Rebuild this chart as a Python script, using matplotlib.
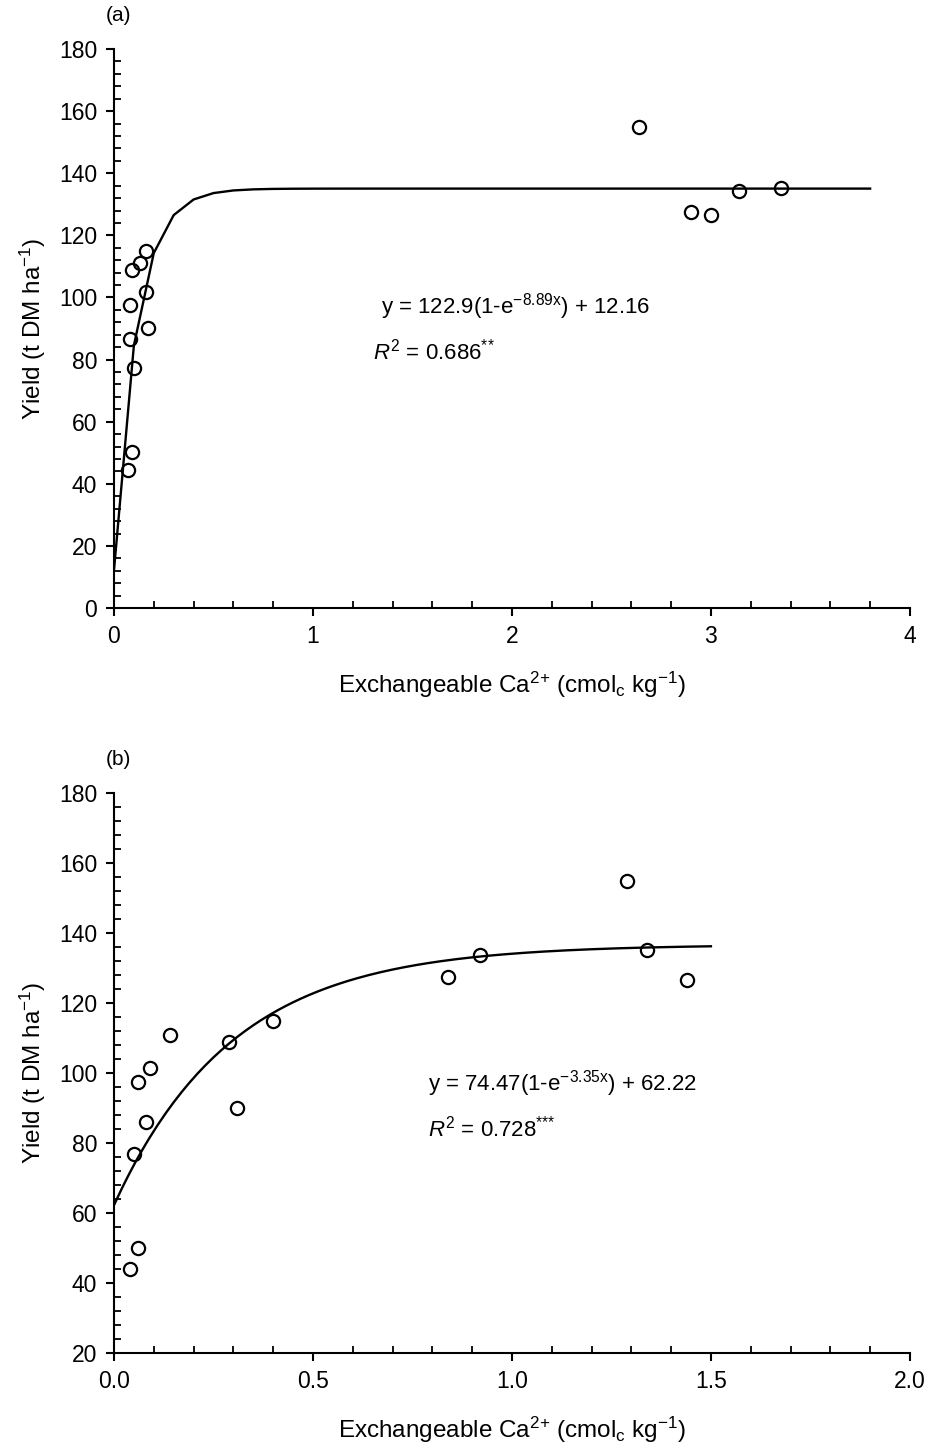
import numpy as np
import matplotlib
matplotlib.use('Agg')
import matplotlib.pyplot as plt
from matplotlib.ticker import MultipleLocator, FormatStrFormatter

plt.rcParams['font.family'] = ['Liberation Sans', 'DejaVu Sans']
plt.rcParams['mathtext.fontset'] = 'custom'
plt.rcParams['mathtext.rm'] = 'Liberation Sans'
plt.rcParams['mathtext.it'] = 'Liberation Sans:italic'

# panel (a) data
ca_a = [2.64, 2.90, 3.00, 3.14, 3.35, 0.16, 0.13, 0.09, 0.16, 0.08, 0.17, 0.08, 0.10, 0.09, 0.07]
yield_a = [154.8, 127.5, 126.6, 134.2, 135.2, 115.0, 111.1, 108.9, 101.7, 97.6, 90.1, 86.6, 77.2, 50.2, 44.4]
fit_a = (122.9, 8.89, 12.16)  # a, k, c in y = a(1-e^-kx) + c
xmax_a = 3.8

# panel (b) data
ca_b = [0.14, 0.09, 0.06, 0.08, 0.05, 0.29, 0.31, 0.40, 0.06, 0.04, 1.29, 0.84, 0.92, 1.34, 1.44]
yield_b = [110.9, 101.3, 97.3, 86.1, 76.9, 108.8, 89.9, 114.9, 49.9, 44.0, 154.8, 127.4, 133.8, 135.1, 126.6]
fit_b = (74.47, 3.35, 62.22)
xmax_b = 1.5

fig = plt.figure(figsize=(9.32, 14.55), dpi=100)
ax1 = fig.add_axes([0.1223, 0.5821, 0.854, 0.3842])
ax2 = fig.add_axes([0.1223, 0.0701, 0.854, 0.3849])


def style(ax):
    for s in ['top', 'right']:
        ax.spines[s].set_visible(False)
    for s in ['left', 'bottom']:
        ax.spines[s].set_linewidth(1.5)
    ax.tick_params(which='major', direction='out', length=6, width=1.5, labelsize=16.5, pad=6)
    ax.tick_params(which='minor', direction='in', length=5, width=1.3)
    ax.set_ylabel(r'Yield (t DM ha$^{\mathrm{-1}}$)', fontsize=17.5, labelpad=8)
    ax.set_xlabel(r'Exchangeable Ca$^{2{+}}$ (cmol$_{\mathrm{c}}$ kg$^{\mathrm{-1}}$)', fontsize=17.5, labelpad=16)


def fit_line(ax, fit, xmax, step):
    a, k, c = fit
    xs = np.linspace(0, xmax, int(round(xmax / step)) + 1)
    ax.plot(xs, a * (1 - np.exp(-k * xs)) + c, color='black', lw=1.7, zorder=2)


# (a)
fit_line(ax1, fit_a, xmax_a, 0.1)
ax1.plot(ca_a, yield_a, 'o', ms=9.5, mfc='none', mec='black', mew=1.6, zorder=3)
ax1.set_xlim(0, 4)
ax1.set_ylim(0, 180)
ax1.xaxis.set_major_locator(MultipleLocator(1))
ax1.xaxis.set_minor_locator(MultipleLocator(0.2))
ax1.yaxis.set_major_locator(MultipleLocator(20))
ax1.yaxis.set_minor_locator(MultipleLocator(4))
style(ax1)
ax1.text(1.34, 97, r'y = 122.9(1-e$^{\mathrm{-8.89x}}$) + 12.16', fontsize=16, va='center')
ax1.text(1.30, 82.5, r'$R^2$ = 0.686$^{{*}{*}}$', fontsize=16, va='center')
ax1.text(-0.01, 1.06, '(a)', transform=ax1.transAxes, fontsize=15, va='center')

# (b)
fit_line(ax2, fit_b, xmax_b, 0.01)
ax2.plot(ca_b, yield_b, 'o', ms=9.5, mfc='none', mec='black', mew=1.6, zorder=3)
ax2.set_xlim(0, 2.0)
ax2.set_ylim(20, 180)
ax2.xaxis.set_major_locator(MultipleLocator(0.5))
ax2.xaxis.set_minor_locator(MultipleLocator(0.1))
ax2.xaxis.set_major_formatter(FormatStrFormatter('%.1f'))
ax2.yaxis.set_major_locator(MultipleLocator(20))
ax2.yaxis.set_minor_locator(MultipleLocator(4))
style(ax2)
ax2.text(0.79, 97, r'y = 74.47(1-e$^{\mathrm{-3.35x}}$) + 62.22', fontsize=16, va='center')
ax2.text(0.79, 84, r'$R^2$ = 0.728$^{{*}{*}{*}}$', fontsize=16, va='center')
ax2.text(-0.01, 1.06, '(b)', transform=ax2.transAxes, fontsize=15, va='center')

fig.savefig('out.png', dpi=100)
